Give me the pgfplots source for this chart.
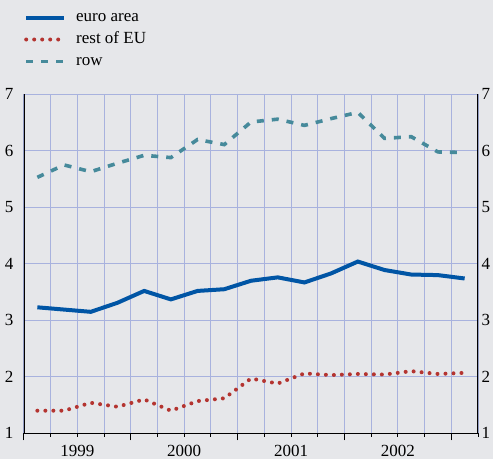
\documentclass[border=0pt]{standalone}
\usepackage{pgfplots}
\pgfplotsset{compat=1.18}
\usepackage{fontspec}
\setmainfont{Liberation Serif}
\definecolor{bgc}{RGB}{230,231,234}
\definecolor{gridc}{RGB}{168,178,222}
\definecolor{euroc}{RGB}{0,85,165}
\definecolor{restc}{RGB}{180,52,48}
\definecolor{rowc}{RGB}{70,138,155}
\newcommand{\lf}{\rmfamily\fontsize{17}{20}\selectfont}
\begin{document}
\begin{tikzpicture}
\fill[bgc] (0,0) rectangle (493pt,459pt);
\begin{axis}[
  at={(24pt,25.7pt)}, anchor=south west,
  scale only axis, width=454pt, height=339pt,
  xmin=0, xmax=17, ymin=1, ymax=7,
  axis line style={draw=none},
  xtick={0,4,8,12,16},
  minor xtick={1,2,3,5,6,7,9,10,11,13,14,15,17},
  xticklabels={},
  extra x ticks={2,6,10,14},
  extra x tick labels={1999,2000,2001,2002},
  extra x tick style={major tick length=0pt, grid=none,
     xticklabel style={yshift=-8pt}},
  ytick={1,...,7},
  yticklabel pos=left,
  grid=both,
  major grid style={color=gridc, line width=1pt},
  minor grid style={color=gridc, line width=1pt},
  tick align=outside,
  xtick pos=bottom, ytick pos=left,
  major x tick style={black, line width=1pt},
  minor x tick style={black, line width=1pt},
  major tick length=7pt, minor tick length=3.5pt,
  y tick style={draw=none},
  tick label style={font=\lf},
  /pgf/number format/assume math mode=true,
  legend style={draw=none, fill=none, font=\lf,
     at={(axis description cs:0,1)}, anchor=north west,
     xshift=0pt, yshift=85pt, inner xsep=0pt, inner ysep=0pt,
     row sep=6pt,
     nodes={inner sep=0pt, text height=12pt, text depth=4pt},
     /tikz/every odd column/.append style={column sep=10pt}},
  legend cell align=left,
  legend image code/.code={\draw[#1] (0pt,0pt) -- (38pt,0pt);},
]
\addplot[euroc, line width=4pt] coordinates {
(0.5,3.23) (1.5,3.19) (2.5,3.15) (3.5,3.31) (4.5,3.52) (5.5,3.37)
(6.5,3.52) (7.5,3.55) (8.5,3.70) (9.5,3.76) (10.5,3.67) (11.5,3.83)
(12.5,4.04) (13.5,3.89) (14.5,3.81) (15.5,3.80) (16.5,3.74)};
\addlegendentry{euro area}
\addplot[restc, line width=4pt, line cap=round, dash pattern=on 0pt off 8pt] coordinates {
(0.5,1.40) (1.5,1.40) (2.5,1.54) (3.5,1.47) (4.5,1.60) (5.5,1.40)
(6.5,1.57) (7.5,1.62) (8.5,1.97) (9.5,1.88) (10.5,2.06) (11.5,2.03)
(12.5,2.05) (13.5,2.04) (14.5,2.10) (15.5,2.05) (16.5,2.07)};
\addlegendentry{rest of EU}
\addplot[rowc, line width=3.6pt, dash pattern=on 7pt off 8pt] coordinates {
(0.5,5.53) (1.5,5.75) (2.5,5.63) (3.5,5.78) (4.5,5.92) (5.5,5.88)
(6.5,6.20) (7.5,6.11) (8.5,6.51) (9.5,6.56) (10.5,6.45) (11.5,6.57)
(12.5,6.68) (13.5,6.22) (14.5,6.25) (15.5,5.98) (16.5,5.97)};
\addlegendentry{row}
\draw[black, line width=1.4pt] (rel axis cs:0,1) -- (rel axis cs:0,0) -- (rel axis cs:1,0) -- (rel axis cs:1,1);
\end{axis}
\begin{axis}[
  at={(24pt,25.7pt)}, anchor=south west,
  scale only axis, width=454pt, height=339pt,
  xmin=0, xmax=17, ymin=1, ymax=7,
  axis x line=none, axis y line*=right,
  axis line style={draw=none},
  ytick={1,...,7},
  y tick style={draw=none},
  major tick length=0pt,
  tick label style={font=\lf},
  /pgf/number format/assume math mode=true,
]
\end{axis}
\pgfresetboundingbox
\useasboundingbox (0,0) rectangle (493pt,459pt);
\end{tikzpicture}
\end{document}
